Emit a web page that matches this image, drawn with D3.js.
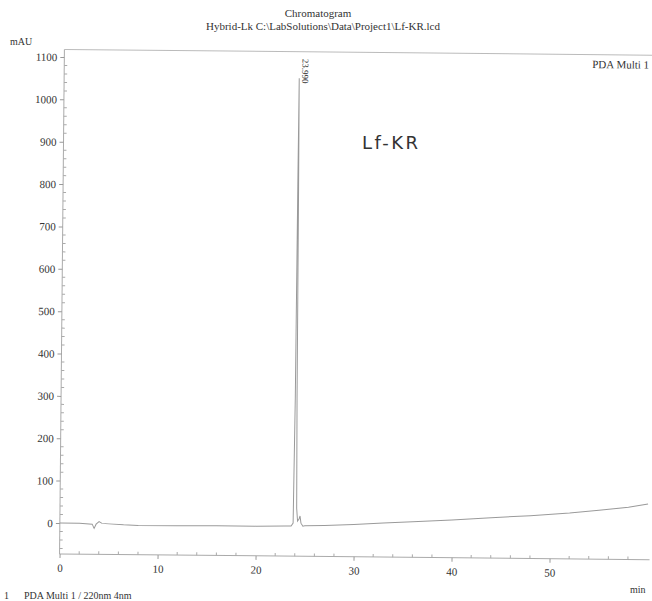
<!DOCTYPE html>
<html>
<head>
<meta charset="utf-8">
<script src="https://cdn.jsdelivr.net/npm/d3@7"></script>
<style>
  body { margin: 0; background: #fff; }
  svg text { font-family: "Liberation Serif", "Times New Roman", serif; fill: #333; }
</style>
</head>
<body>
<svg id="chart" width="652" height="601"></svg>
<script>
// Retention time (min) and absorbance (mAU) of the PDA trace
const timeMin = [0, 2, 3.3, 3.5, 3.7, 4.0, 4.3, 5, 6.5, 8, 12, 16, 20, 23, 23.6,
  23.8, 23.9, 23.95, 23.99, 24.03, 24.08, 24.15, 24.25, 24.4, 24.5, 24.6, 24.8,
  25, 27, 30, 33, 36, 40, 44, 48, 52, 55, 58, 60];
const mAU = [0, 0, -2, -12, -2, 4, 0, -1, -3, -4, -4, -3, -3, -2, -2,
  5, 300, 800, 1055, 800, 300, 40, 10, 15, 22, 5, -2,
  -1, 0, 3, 7, 11, 16, 22, 28, 35, 42, 50, 58];
const peakTimes = [23.99];
const peakLabels = ["23.990"];
const yTicks = [0, 100, 200, 300, 400, 500, 600, 700, 800, 900, 1000, 1100];
const xTicks = [0, 10, 20, 30, 40, 50];

const svg = d3.select("#chart");

// Header
svg.append("text").attr("x", 318).attr("y", 17).attr("text-anchor", "middle")
  .attr("font-size", 11).text("Chromatogram");
svg.append("text").attr("x", 323).attr("y", 30).attr("text-anchor", "middle")
  .attr("font-size", 11).text("Hybrid-Lk C:\\LabSolutions\\Data\\Project1\\Lf-KR.lcd");

const x = d3.scaleLinear().domain([0, 60]).range([62, 650]);
const y = d3.scaleLinear().domain([-73.2, 1117.7]).range([554, 49.5]);

// Plot area, slightly tilted like the scanned printout
const g = svg.append("g").attr("transform", "rotate(0.55, 62, 300)");

// Top frame line
g.append("line").attr("x1", 62).attr("x2", 652).attr("y1", y(1117.7)).attr("y2", y(1117.7))
  .attr("stroke", "#bbb").attr("stroke-width", 1);

// Y axis
const yAxis = g.append("g").attr("transform", "translate(62,0)")
  .call(d3.axisLeft(y).tickValues(yTicks).tickSize(4).tickPadding(3).tickFormat(d3.format("d")));
yAxis.select(".domain").attr("stroke", "#aaa").attr("d", `M0,${y(-73.2)}V${y(1117.7)}`);
yAxis.selectAll(".tick line").attr("stroke", "#999");
yAxis.selectAll(".tick text").attr("font-size", 11).attr("fill", "#333")
  .attr("font-family", "Liberation Serif, serif");
g.append("g").selectAll("line").data(d3.range(-60, 1101, 20).filter(v => v % 100 !== 0))
  .join("line").attr("x1", 62).attr("x2", 65).attr("y1", d => y(d)).attr("y2", d => y(d))
  .attr("stroke", "#aaa");

// X axis
const xAxis = g.append("g").attr("transform", `translate(0,${y(-73.2)})`)
  .call(d3.axisBottom(x).tickValues(xTicks).tickSize(4).tickPadding(6).tickFormat(d3.format("d")));
xAxis.select(".domain").attr("stroke", "#aaa").attr("d", "M62,0H652");
xAxis.selectAll(".tick line").attr("stroke", "#999");
xAxis.selectAll(".tick text").attr("font-size", 11).attr("fill", "#333")
  .attr("font-family", "Liberation Serif, serif");
g.append("g").selectAll("line").data(d3.range(2, 60, 2).filter(v => v % 10 !== 0))
  .join("line").attr("x1", d => x(d)).attr("x2", d => x(d))
  .attr("y1", y(-73.2)).attr("y2", y(-73.2) - 3).attr("stroke", "#aaa");

// Trace
const line = d3.line().x((d, i) => x(timeMin[i])).y(d => y(d));
g.append("path").datum(mAU).attr("d", line)
  .attr("fill", "none").attr("stroke", "#9a9a9a").attr("stroke-width", 1);

// Peak retention-time labels
g.selectAll(".peak").data(peakTimes).join("text").attr("class", "peak")
  .attr("transform", d => `translate(${x(d) + 3},${y(1117.7) + 7}) rotate(90)`)
  .attr("font-size", 9).attr("fill", "#555").text((d, i) => peakLabels[i]);

// Channel name
g.append("text").attr("x", 590).attr("y", 63).attr("font-size", 11).text("PDA Multi 1");

// Sample name
svg.append("text").attr("x", 362).attr("y", 149).attr("font-size", 18)
  .attr("textLength", 56).attr("lengthAdjust", "spacing")
  .style("font-family", "DejaVu Sans, sans-serif")
  .attr("fill", "#111").text("Lf-KR");

// Axis units
svg.append("text").attr("x", 10).attr("y", 45).attr("font-size", 10).text("mAU");
svg.append("text").attr("x", 630).attr("y", 593).attr("font-size", 10).text("min");

// Footer
svg.append("text").attr("x", 4).attr("y", 599).attr("font-size", 10).text("1");
svg.append("text").attr("x", 24).attr("y", 599).attr("font-size", 10)
  .text("PDA Multi 1 / 220nm 4nm");
</script>
</body>
</html>
